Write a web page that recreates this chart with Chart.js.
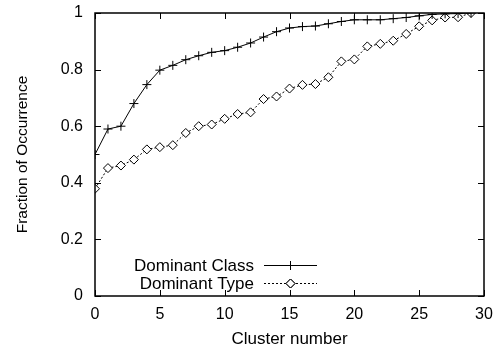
<!DOCTYPE html>
<html>
<head>
<meta charset="utf-8">
<script src="https://cdn.jsdelivr.net/npm/chart.js@4"></script>
<style>
  html, body { margin: 0; padding: 0; background: #fff; }
  #wrap { width: 502px; height: 352px; }
</style>
</head>
<body>
<div id="wrap"><canvas id="chart" width="502" height="352"></canvas></div>
<script>
/* ========= DATA ========= */

const clusters = [0, 1, 2, 3, 4, 5, 6, 7, 8, 9, 10, 11, 12, 13, 14,
                  15, 16, 17, 18, 19, 20, 21, 22, 23, 24, 25, 26, 27, 28, 29];

const dominantClass = [0.50, 0.59, 0.60, 0.68, 0.747, 0.798, 0.815, 0.835, 0.849, 0.861,
                       0.867, 0.879, 0.894, 0.915, 0.934, 0.947, 0.952, 0.954, 0.962, 0.970,
                       0.976, 0.976, 0.976, 0.980, 0.984, 0.990, 0.995, 0.997, 0.998, 1.0];

const dominantType = [0.379, 0.452, 0.461, 0.482, 0.518, 0.526, 0.533, 0.576, 0.600, 0.606,
                      0.626, 0.643, 0.649, 0.696, 0.705, 0.733, 0.746, 0.749, 0.773, 0.829,
                      0.836, 0.882, 0.891, 0.902, 0.926, 0.953, 0.974, 0.984, 0.985, 1.0];

const xTicks = [0, 5, 10, 15, 20, 25, 30];
const yTicks = [0, 0.2, 0.4, 0.6, 0.8, 1];

const seriesNames = ["Dominant Class", "Dominant Type"];

const FONT = "'Liberation Sans', Arial, Helvetica, sans-serif";


/* ========= FRAME + INWARD TICKS ========= */

const framePlugin = {
  id: "frame",
  afterDatasetsDraw(chart) {
    const { ctx, chartArea: a, scales } = chart;
    const len = 6;
    ctx.save();
    ctx.strokeStyle = "#000";
    ctx.lineWidth = 1;
    ctx.beginPath();
    xTicks.forEach(v => {
      const px = Math.round(scales.x.getPixelForValue(v)) + 0.5;
      ctx.moveTo(px, a.bottom); ctx.lineTo(px, a.bottom - len);
      ctx.moveTo(px, a.top); ctx.lineTo(px, a.top + len);
    });
    yTicks.forEach(v => {
      const py = Math.round(scales.y.getPixelForValue(v)) + 0.5;
      ctx.moveTo(a.left, py); ctx.lineTo(a.left + len, py);
      ctx.moveTo(a.right, py); ctx.lineTo(a.right - len, py);
    });
    ctx.stroke();
    ctx.lineWidth = 1.5;
    ctx.strokeRect(a.left, a.top, a.right - a.left, a.bottom - a.top);
    ctx.restore();
  }
};


/* ========= LEGEND (gnuplot style) ========= */

const keyPlugin = {
  id: "key",
  afterDraw(chart) {
    const { ctx } = chart;
    const textRight = 254;
    const lineL = 264, lineR = 317;
    const rows = [265, 283];
    ctx.save();
    ctx.font = "17px " + FONT;
    ctx.fillStyle = "#000";
    ctx.textAlign = "right";
    ctx.textBaseline = "middle";
    chart.data.datasets.forEach((ds, i) => {
      const y = rows[i];
      ctx.fillText(seriesNames[i], textRight, y + 1);
      ctx.strokeStyle = "#000";
      ctx.lineWidth = 1;
      ctx.setLineDash(ds.borderDash || []);
      ctx.beginPath();
      ctx.moveTo(lineL, y + 0.5);
      ctx.lineTo(lineR, y + 0.5);
      ctx.stroke();
      ctx.setLineDash([]);
      Chart.helpers.drawPoint(ctx, {
        pointStyle: ds.pointStyle,
        radius: ds.pointRadius,
        borderWidth: 1
      }, (lineL + lineR) / 2, y + 0.5);
      if (ds.pointStyle === "rectRot") {
        ctx.fillStyle = "#fff";
        ctx.fill();
        ctx.stroke();
        ctx.fillStyle = "#000";
      }
    });
    ctx.restore();
  }
};


/* ========= CHART ========= */

function noPad(s) {
  s.paddingTop = 0;
  s.paddingBottom = 0;
  s.paddingLeft = 0;
  s.paddingRight = 0;
}

function buildChart() {
  const canvas = document.getElementById("chart");

  new Chart(canvas, {
    type: "line",
    data: {
      datasets: [
        {
          label: seriesNames[0],
          data: clusters.map((c, i) => ({ x: c, y: dominantClass[i] })),
          borderColor: "#000",
          backgroundColor: "#000",
          borderWidth: 1,
          pointStyle: "cross",
          pointRadius: 4.5,
          pointBorderWidth: 1,
          tension: 0,
          fill: false
        },
        {
          label: seriesNames[1],
          data: clusters.map((c, i) => ({ x: c, y: dominantType[i] })),
          borderColor: "#000",
          backgroundColor: "#fff",
          borderWidth: 1,
          borderDash: [2, 2],
          pointStyle: "rectRot",
          pointRadius: 4.5,
          pointBorderWidth: 1,
          tension: 0,
          fill: false
        }
      ]
    },
    options: {
      responsive: false,
      animation: false,
      layout: { padding: { left: 0, top: 13, right: 18, bottom: 0 } },
      plugins: {
        legend: { display: false },
        tooltip: { enabled: false }
      },
      scales: {
        x: {
          type: "linear",
          min: 0,
          max: 30,
          afterFit: s => { s.height = 56; noPad(s); },
          afterBuildTicks: s => { s.ticks = xTicks.map(v => ({ value: v })); },
          grid: { display: false, drawTicks: false },
          border: { display: false },
          ticks: {
            color: "#000",
            padding: 9,
            maxRotation: 0,
            font: { family: FONT, size: 16 }
          },
          title: {
            display: true,
            text: "Cluster number",
            color: "#000",
            padding: { top: 0, bottom: 2 },
            font: { family: FONT, size: 17 }
          }
        },
        y: {
          min: 0,
          max: 1,
          afterFit: s => { s.width = 95; noPad(s); },
          afterBuildTicks: s => { s.ticks = yTicks.map(v => ({ value: v })); },
          grid: { display: false, drawTicks: false },
          border: { display: false },
          ticks: {
            color: "#000",
            padding: 12,
            font: { family: FONT, size: 16 },
            callback: v => String(Math.round(v * 10) / 10)
          },
          title: {
            display: true,
            text: "Fraction of Occurrence",
            color: "#000",
            padding: { top: 13, bottom: 0 },
            font: { family: FONT, size: 15.5 }
          }
        }
      }
    },
    plugins: [framePlugin, keyPlugin]
  });
}

document.addEventListener("DOMContentLoaded", buildChart);
</script>
</body>
</html>
